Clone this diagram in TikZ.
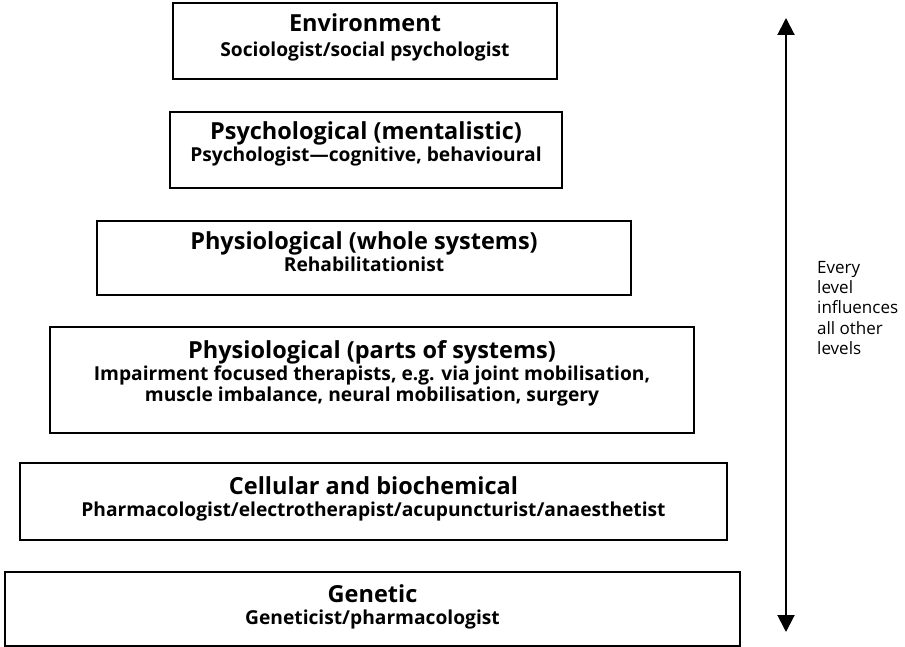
\documentclass[tikz,border=0pt]{standalone}
\usepackage{fontspec}
\setmainfont{Open Sans}
\usetikzlibrary{arrows.meta}
\begin{document}
\begin{tikzpicture}[x=1pt,y=-1pt,
  level/.style={draw=black,line width=1.5pt,minimum width=#1,inner sep=0pt},
  ttl/.style={anchor=base,inner sep=0pt,font=\fontsize{23.5}{28}\selectfont\bfseries},
  sub/.style={anchor=base,inner sep=0pt,font=\fontsize{19.2}{23}\selectfont\bfseries},
  side/.style={anchor=north west,inner sep=0pt,align=left,font=\fontsize{17}{20.3}\selectfont}]
\fill[white] (0,0) rectangle (905,647);
\useasboundingbox (0,0) rectangle (905,647);
% boxes
\node[level=384pt,minimum height=76pt] (b1) at (365,41) {};
\node[level=392pt,minimum height=76pt] (b2) at (366,150) {};
\node[level=534pt,minimum height=74pt] (b3) at (364,258) {};
\node[level=644pt,minimum height=106pt] (b4) at (372,380) {};
\node[level=707pt,minimum height=77pt] (b5) at (373.5,501.5) {};
\node[level=735pt,minimum height=74pt] (b6) at (372.5,609) {};
% texts
\node[ttl] (t1) at (365,32) {Environment};
\node[sub] (s1) at (365,57) {Sociologist/social psychologist};
\node[ttl] (t2) at (366,140) {Psychological (mentalistic)};
\node[sub] (s2) at (366,162) {Psychologist---cognitive, behavioural};
\node[ttl] (t3) at (364,250) {Physiological (whole systems)};
\node[sub] (s3) at (364,272) {Rehabilitationist};
\node[ttl] (t4) at (372,358) {Physiological (parts of systems)};
\node[sub] (s4a) at (372,380) {Impairment focused therapists, e.g. via joint mobilisation,};
\node[sub] (s4b) at (372,401) {muscle imbalance, neural mobilisation, surgery};
\node[ttl] (t5) at (373.5,494) {Cellular and biochemical};
\node[sub] (s5) at (373.5,516) {Pharmacologist/electrotherapist/acupuncturist/anaesthetist};
\node[ttl] (t6) at (372.5,602) {Genetic};
\node[sub] (s6) at (372.5,624) {Geneticist/pharmacologist};
% arrow
\coordinate (top) at (786,18);
\coordinate (bot) at (786,632);
\draw[line width=2pt,{Triangle[length=17pt,width=17pt]}-{Triangle[length=17pt,width=17pt]}] (top) -- (bot);
\node[side] (note) at (817,261) {Every\\level\\influences\\all other\\levels};
\end{tikzpicture}
\end{document}
